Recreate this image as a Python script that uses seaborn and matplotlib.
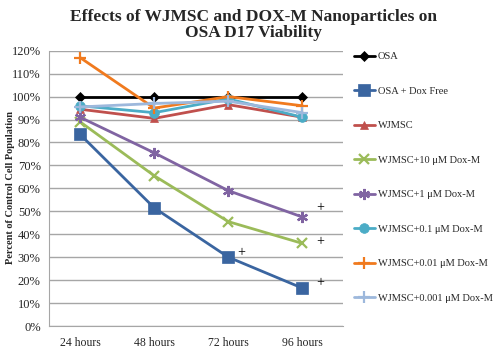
import pandas as pd
import matplotlib.pyplot as plt
import seaborn as sns
from matplotlib.ticker import PercentFormatter

# Data (percent of control)
times = ["24 hours", "48 hours", "72 hours", "96 hours"]
osa = [100, 100, 100, 100]
osa_dox_free = [83.5, 51.5, 30, 16.5]
wjmsc = [94.5, 90.5, 96.5, 91]
wj_10 = [89, 65.5, 45.5, 36]
wj_1 = [91, 75.5, 59, 47.5]
wj_01 = [96, 93, 99, 91]
wj_001_ = [117, 95, 100, 96]
wj_0001 = [95.5, 97, 98, 93]

series_names = ["OSA", "OSA + Dox Free", "WJMSC", "WJMSC+10 \u03bcM Dox-M",
                "WJMSC+1 \u03bcM Dox-M", "WJMSC+0.1 \u03bcM Dox-M",
                "WJMSC+0.01 \u03bcM Dox-M", "WJMSC+0.001 \u03bcM Dox-M"]
series_vals = [osa, osa_dox_free, wjmsc, wj_10, wj_1, wj_01, wj_001_, wj_0001]

# significance marks ("+") next to points
sig_x = [2.18, 3.24, 3.24, 3.24]
sig_y = [32, 51.5, 37, 19]

colors = ["#000000", "#3A65A0", "#C0504D", "#9BBB59", "#8064A2",
          "#4BACC6", "#F07A1E", "#9DB8DC"]
markers = ["D", "s", "^", "x", (6, 2, 0), "o", "+", "+"]
msizes = [5, 8, 6, 7, 8, 7, 9, 9]

df = pd.concat([
    pd.DataFrame({"time": times, "value": v, "series": n})
    for n, v in zip(series_names, series_vals)
])

sns.set_style("white")
plt.rcParams["font.family"] = ["Liberation Serif", "DejaVu Serif"]

fig = plt.figure(figsize=(4.97, 3.48), dpi=100)
ax = fig.add_axes([0.0986, 0.0632, 0.592, 0.791])

for i, name in enumerate(series_names):
    sub = df[df["series"] == name]
    thin = markers[i] in ["x", "+"] or isinstance(markers[i], tuple)
    sns.lineplot(data=sub, x="time", y="value", ax=ax, color=colors[i],
                 marker=markers[i], markersize=msizes[i], linewidth=2,
                 markeredgewidth=1.6 if thin else 0.5,
                 markeredgecolor=colors[i], label=name, sort=False,
                 zorder=3 + i)

for x, y in zip(sig_x, sig_y):
    ax.text(x, y, "+", fontsize=10, ha="center", va="center", color="black")

ax.set_ylim(0, 120)
ax.set_xlim(-0.42, 3.55)
ax.set_yticks(range(0, 121, 10))
ax.yaxis.set_major_formatter(PercentFormatter(decimals=0))
ax.yaxis.grid(True, color="#A6A6A6", linewidth=1)
ax.xaxis.grid(False)
for s in ["top", "right"]:
    ax.spines[s].set_visible(False)
for s in ["left", "bottom"]:
    ax.spines[s].set_color("#A6A6A6")
ax.tick_params(axis="y", labelsize=9, length=0, pad=6)
ax.tick_params(axis="x", labelsize=8.5, length=0, pad=8)
ax.set_xlabel("")
ax.set_ylabel("")
fig.text(0.022, 0.46, "Percent of Control Cell Population", fontsize=7.5,
         fontweight="bold", rotation=90, ha="center", va="center")

ax.legend_.remove()
handles, labels = ax.get_legend_handles_labels()
fig.legend(handles, labels, loc="upper left", bbox_to_anchor=(0.703, 0.862),
           frameon=False, fontsize=7.5, handlelength=2.1, handletextpad=0.2,
           labelspacing=2.42, borderaxespad=0)

fig.text(0.51, 0.975, "Effects of WJMSC and DOX-M Nanoparticles on\nOSA D17 Viability",
         ha="center", va="top", fontsize=12.5, fontweight="bold", linespacing=1.0)

fig.savefig("out.png", dpi=100)
